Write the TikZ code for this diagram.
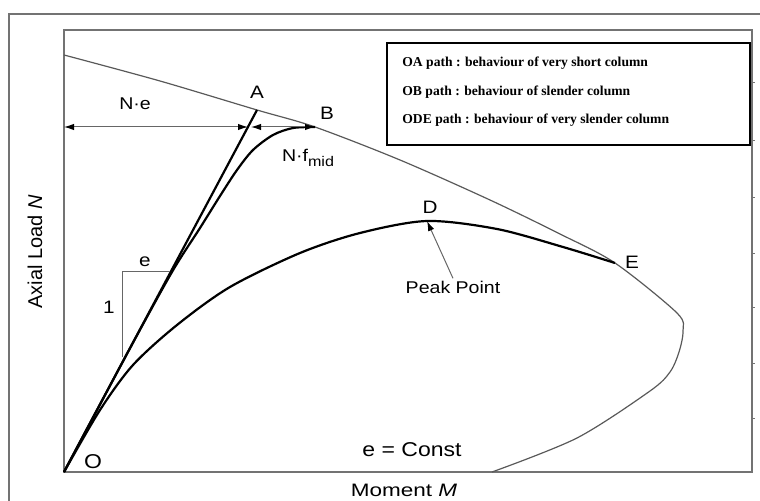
\documentclass[tikz,border=0pt]{standalone}
\usepackage{fontspec}
\setmainfont{Liberation Serif}
\setsansfont{Liberation Sans}
\usetikzlibrary{arrows.meta}

\begin{document}
\begin{tikzpicture}[x=0.5pt,y=-0.5pt,
  frame/.style={draw=black!55,line width=0.8pt},
  curve/.style={draw=black,line width=1.1pt},
  envelope/.style={draw=black!65,line width=0.6pt},
  dimline/.style={draw=black!60,line width=0.5pt,
    {Latex[length=5pt,width=3.2pt,color=black]}-{Latex[length=5pt,width=3.2pt,color=black]}},
  txt/.style={font=\sffamily\fontsize{8.5}{10}\selectfont,inner sep=1pt},
  lbl/.style={txt,xscale=1.15},
  legtxt/.style={font=\bfseries\fontsize{6.8}{8}\selectfont,anchor=west,inner sep=0pt}]
  \useasboundingbox (0,0) rectangle (760,501);
  \draw[frame,line width=1.1pt] (9,501) -- (9,14) -- (760,14);
  \draw[frame] (64,30) rectangle (752,472);
  \foreach \y in {82,140,197,253,307,363,418} \draw[black!55] (752,\y) -- (755,\y);

  \coordinate (O) at (64,472);
  \coordinate (A) at (257,110);
  \coordinate (B) at (315,127);
  \coordinate (D) at (427,221);
  \coordinate (E) at (615,263);

  \draw[envelope] plot[smooth,tension=0.5] coordinates {(64,55) (160,81) (257,110) (315,127)
    (400,160) (490,200) (560,234) (615,263) (677,313) (683,331) (679,352) (670,372)
    (650,391) (577,438) (492,472)};
  \draw[curve] (O) -- (A);
  \draw[curve] plot[smooth] coordinates {(64,472) (129,350) (172,272) (200,228) (220,196)
    (237,170) (253,150) (273,135) (293,128) (315,127)};
  \draw[curve] plot[smooth] coordinates {(64,472) (100,410) (133,365) (177,325) (230,287)
    (300,253) (360,233) (427,221) (497,229) (563,247) (615,263)};

  \draw[black!60,line width=0.5pt] (122,357) -- (122,272) -- (170,272);
  \node[lbl,font=\sffamily\fontsize{9}{10}\selectfont] (e) at (145,262) {e};
  \node[lbl,font=\sffamily\fontsize{9}{10}\selectfont] (one) at (109,307) {1};

  \coordinate (neL) at (64,127);
  \coordinate (neR) at (248,127);
  \coordinate (fmL) at (251,127);
  \draw[dimline] (neL) -- (neR);
  \draw[dimline] (fmL) -- (B);
  \node[lbl] (Ne) at (135,104) {N·e};
  \node[lbl] (Nf) at (308,158) {N·f\raisebox{-0.6ex}{\fontsize{7}{8}\selectfont mid}};

  \node[lbl,font=\sffamily\fontsize{9}{10}\selectfont] (labA) at (257,92) {A};
  \node[lbl,font=\sffamily\fontsize{9}{10}\selectfont] (labB) at (327,113) {B};
  \node[lbl,font=\sffamily\fontsize{9}{10}\selectfont] (labD) at (430,207) {D};
  \node[lbl,font=\sffamily\fontsize{9}{10}\selectfont] (labE) at (632,262) {E};
  \node[lbl,font=\sffamily\fontsize{10}{10}\selectfont] (labO) at (93,462) {O};

  \node[lbl] (peak) at (453,287) {Peak Point};
  \draw[black!60,line width=0.5pt,-{Latex[length=5pt,width=3.2pt,color=black]}] (peak.north) -- (D);

  \node[lbl,font=\sffamily\fontsize{10}{10}\selectfont] (const) at (412,450) {e = Const};
  \node[txt,font=\sffamily\fontsize{9}{10}\selectfont,xscale=1.25] (xlab) at (404,490) {Moment \textit{M}};
  \node[txt,font=\sffamily\fontsize{10}{10}\selectfont,rotate=90] (ylab) at (35,252) {Axial Load \textit{N}};

  \node[draw=black,line width=0.6pt,minimum width=181.5pt,minimum height=51pt,inner sep=0pt] (legend) at (568.5,94) {};
  \node[legtxt] (legOA) at (402,63) {OA path : behaviour of very short column};
  \node[legtxt] (legOB) at (402,92) {OB path : behaviour of slender column};
  \node[legtxt] (legODE) at (402,120) {ODE path : behaviour of very slender column};
\end{tikzpicture}
\end{document}
